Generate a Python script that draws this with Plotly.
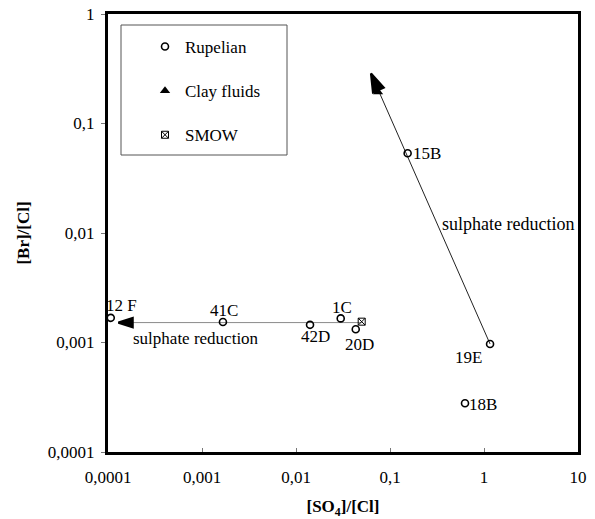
import math
import plotly.graph_objects as go

# Rupelian pore waters: [SO4]/[Cl] and [Br]/[Cl] molar ratios
rupelian_labels = ["12 F", "41C", "42D", "1C", "20D", "15B", "19E", "18B"]
rupelian_so4_cl = [0.000107, 0.00167, 0.0141, 0.0299, 0.0432, 0.154, 1.16, 0.628]
rupelian_br_cl = [0.00168, 0.00154, 0.00145, 0.00166, 0.00132, 0.0535, 0.00097, 0.000279]

# Clay fluids
clay_so4_cl = [0.0745]
clay_br_cl = [0.194]

# Standard mean ocean water
smow_so4_cl = [0.050]
smow_br_cl = [0.00155]

# Sulphate reduction trends (start -> arrow tip)
trend_seawater_x = [0.050, 0.000129]
trend_seawater_y = [0.00152, 0.00152]
trend_clay_x = [1.16, 0.0628]
trend_clay_y = [0.00097, 0.286]

x_tickvals = [0.0001, 0.001, 0.01, 0.1, 1, 10]
x_ticktext = ["0,0001", "0,001", "0,01", "0,1", "1", "10"]
y_tickvals = [0.0001, 0.001, 0.01, 0.1, 1]
y_ticktext = ["0,0001", "0,001", "0,01", "0,1", "1"]

FONT = "Liberation Serif, Times New Roman, serif"

fig = go.Figure()

# trend lines
fig.add_trace(go.Scatter(x=trend_seawater_x, y=trend_seawater_y, mode="lines",
                         line=dict(color="#8a8a8a", width=1), showlegend=False,
                         hoverinfo="skip"))
fig.add_trace(go.Scatter(x=trend_clay_x, y=trend_clay_y, mode="lines",
                         line=dict(color="#222", width=1), showlegend=False,
                         hoverinfo="skip"))
# arrow heads (the "arrow" symbol has its tip on the data point)
fig.add_trace(go.Scatter(x=trend_seawater_x[-1:], y=trend_seawater_y[-1:], mode="markers",
                         marker=dict(symbol="arrow", size=15, color="black", angle=-90,
                                     line=dict(width=2.2, color="black")),
                         showlegend=False, hoverinfo="skip"))
fig.add_trace(go.Scatter(x=trend_clay_x[-1:], y=trend_clay_y[-1:], mode="markers",
                         marker=dict(symbol="arrow", size=19, color="black", angle=-24,
                                     line=dict(width=2.2, color="black")),
                         showlegend=False, hoverinfo="skip"))

fig.add_trace(go.Scatter(x=rupelian_so4_cl, y=rupelian_br_cl, mode="markers",
                         name="Rupelian", legendgroup="a",
                         marker=dict(symbol="circle-open", size=7, color="black",
                                     line=dict(width=1.6, color="black"))))
fig.add_trace(go.Scatter(x=clay_so4_cl, y=clay_br_cl, mode="markers",
                         name="Clay fluids", legendgroup="b",
                         marker=dict(symbol="triangle-up", size=9, color="black")))
fig.add_trace(go.Scatter(x=smow_so4_cl, y=smow_br_cl, mode="markers",
                         name="SMOW", legendgroup="c",
                         marker=dict(symbol="square-x-open", size=7, color="black",
                                     line=dict(width=1, color="black"))))

# sample labels
label_shift = {
    "12 F": (11, 12, "center"), "41C": (1, 11, "center"), "42D": (5, -12, "center"),
    "1C": (1, 11, "center"), "20D": (4, -15, "center"), "15B": (3, 0, "left"),
    "19E": (-22, -14, "center"), "18B": (2, -1, "left"),
}
for lab, xv, yv in zip(rupelian_labels, rupelian_so4_cl, rupelian_br_cl):
    dx, dy, anchor = label_shift[lab]
    fig.add_annotation(x=math.log10(xv), y=math.log10(yv), text=lab, showarrow=False,
                       xshift=dx, yshift=dy, xanchor=anchor,
                       font=dict(family=FONT, size=17, color="black"))

fig.add_annotation(x=-3.064, y=-2.959, text="sulphate reduction", showarrow=False,
                   font=dict(family=FONT, size=17, color="black"))
fig.add_annotation(x=0.255, y=-1.918, text="sulphate reduction", showarrow=False,
                   font=dict(family=FONT, size=18, color="black"))

# legend frame
fig.add_shape(type="rect", xref="paper", yref="paper",
              x0=13 / 470, x1=179 / 470, y0=(452 - 155) / 438, y1=(452 - 25) / 438,
              line=dict(color="#555", width=1), fillcolor="rgba(0,0,0,0)")

axis_common = dict(
    type="log", showgrid=False, zeroline=False, showline=True, mirror=True,
    automargin=False,
    linecolor="black", linewidth=3, tickfont=dict(family=FONT, size=17, color="black"),
    ticklen=4, tickcolor="#777", tickwidth=1,
)
fig.update_xaxes(**axis_common, range=[-4, 1], tickvals=x_tickvals, ticktext=x_ticktext,
                 ticks="inside", ticklabelstandoff=8,
                 title=dict(text="[SO<sub>4</sub>]/[Cl]", standoff=20,
                            font=dict(family=FONT, size=17, color="black", weight="bold")))
fig.update_yaxes(**axis_common, range=[-4, 0], tickvals=y_tickvals, ticktext=y_ticktext,
                 ticks="outside", ticklabelstandoff=3,
                 title=dict(text="[Br]/[Cl]", standoff=14,
                            font=dict(family=FONT, size=17, color="black", weight="bold")))

fig.update_layout(
    width=595, height=519,
    margin=dict(l=108, r=17, t=14, b=67),
    paper_bgcolor="white", plot_bgcolor="white",
    font=dict(family=FONT, size=17, color="black"),
    legend=dict(x=37 / 470, xanchor="left", y=(452 - 29) / 438, yanchor="top",
                bgcolor="rgba(0,0,0,0)", borderwidth=0, tracegroupgap=19,
                font=dict(family=FONT, size=17, color="black")),
)

fig.write_html("out.html")
